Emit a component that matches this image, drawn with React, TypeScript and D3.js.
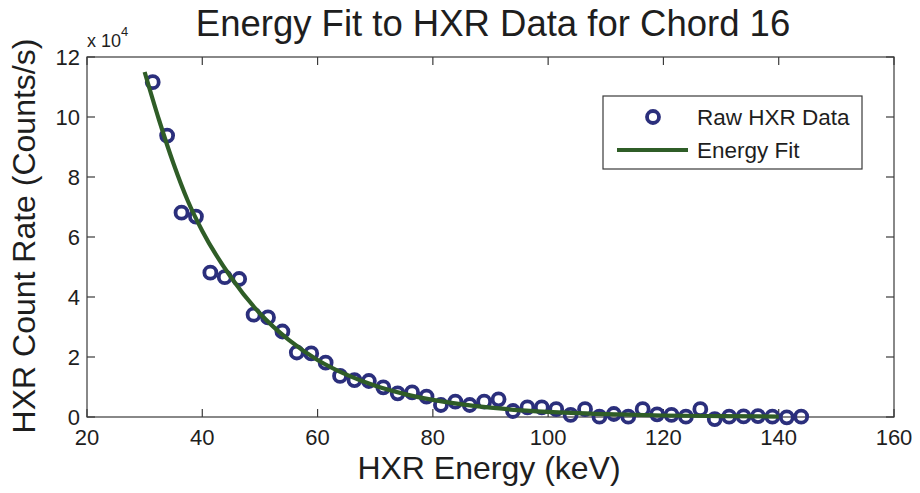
import * as React from 'react';
import * as d3 from 'd3';

const width = 920;
const height = 493;

// raw HXR data: energy in keV, count rate in units of 1e4 counts/s
const energy = [31.4, 33.9, 36.4, 38.9, 41.4, 43.9, 46.4, 48.9, 51.4, 53.9, 56.4, 58.9, 61.4, 63.9, 66.4, 68.9,
  71.4, 73.9, 76.4, 78.9, 81.4, 83.9, 86.4, 88.9, 91.4, 93.9, 96.4, 98.9, 101.4, 103.9, 106.4, 108.9,
  111.4, 113.9, 116.4, 118.9, 121.4, 123.9, 126.4, 128.9, 131.4, 133.9, 136.4, 138.9, 141.4, 143.9];
const counts = [11.16, 9.38, 6.81, 6.68, 4.81, 4.66, 4.6, 3.41, 3.32, 2.85, 2.15, 2.12, 1.81, 1.37, 1.23, 1.2,
  0.99, 0.79, 0.82, 0.68, 0.4, 0.51, 0.4, 0.51, 0.59, 0.2, 0.32, 0.32, 0.26, 0.07, 0.26, 0.01,
  0.1, 0.01, 0.26, 0.09, 0.07, 0.01, 0.26, -0.07, 0.01, 0.02, 0.03, 0.01, -0.01, 0.01];

// energy fit curve
const fitEnergy = [30, 32.5, 35, 37.5, 40, 45, 50, 55, 60, 65, 70, 75, 80, 90, 100, 110, 120, 130, 140];
const fitCounts = [11.5, 9.9, 8.45, 7.2, 6.2, 4.65, 3.45, 2.57, 1.9, 1.41, 1.04, 0.77, 0.57, 0.31, 0.17, 0.095, 0.05, 0.03, 0.015];

const xTicks = [20, 40, 60, 80, 100, 120, 140, 160];
const yTicks = [0, 2, 4, 6, 8, 10, 12];

const x = d3.scaleLinear().domain([20, 160]).range([87, 894]);
const y = d3.scaleLinear().domain([0, 12]).range([417, 57]);

const font = '"Liberation Sans", Arial, sans-serif';
const axisColor = '#3a3a3a';
const textColor = '#1e1e1e';
const markColor = '#2b2f7c';
const fitColor = '#2f5d27';
const tickLen = 8;

export default function App() {
  const points = energy.map((e, i) => ({e, c: counts[i]}));
  const fit = fitEnergy.map((e, i) => ({e, c: fitCounts[i]}));
  const line = d3.line<{e: number, c: number}>()
    .x(d => x(d.e))
    .y(d => y(d.c))
    .curve(d3.curveMonotoneX);

  const [x0, x1] = x.range();
  const [y0, y1] = y.range();

  return (
    <svg width={width} height={height} style={{position: 'absolute', left: 0, top: 0, background: '#fff'}}
      fontFamily={font}>
      <rect x={0} y={0} width={width} height={height} fill="#fff"/>

      {/* plot box */}
      <rect x={x0} y={y1} width={x1 - x0} height={y0 - y1} fill="none" stroke={axisColor} strokeWidth={1.2}/>

      {xTicks.map(t => (
        <g key={'x' + t}>
          <line x1={x(t)} x2={x(t)} y1={y0} y2={y0 - tickLen} stroke={axisColor} strokeWidth={1.2}/>
          <line x1={x(t)} x2={x(t)} y1={y1} y2={y1 + tickLen} stroke={axisColor} strokeWidth={1.2}/>
          <text x={x(t)} y={445} textAnchor="middle" fontSize={22} fill={textColor}>{t}</text>
        </g>
      ))}
      {yTicks.map(t => (
        <g key={'y' + t}>
          <line x1={x0} x2={x0 + tickLen} y1={y(t)} y2={y(t)} stroke={axisColor} strokeWidth={1.2}/>
          <line x1={x1} x2={x1 - tickLen} y1={y(t)} y2={y(t)} stroke={axisColor} strokeWidth={1.2}/>
          <text x={80} y={y(t) + 8} textAnchor="end" fontSize={22} fill={textColor}>{t}</text>
        </g>
      ))}

      {/* exponent label */}
      <text x={87} y={47} fontSize={18} fill={textColor}>x 10<tspan dy={-11} fontSize={13}>4</tspan></text>

      {/* data */}
      {points.map((d, i) => (
        <circle key={i} cx={x(d.e)} cy={y(d.c)} r={6} fill="none" stroke={markColor} strokeWidth={3.8}/>
      ))}
      <path d={line(fit) ?? ''} fill="none" stroke={fitColor} strokeWidth={4.2}/>

      {/* titles */}
      <text x={493} y={36} textAnchor="middle" fontSize={36.5} fill={textColor}>Energy Fit to HXR Data for Chord 16</text>
      <text x={489} y={479} textAnchor="middle" fontSize={32} fill={textColor}>HXR Energy (keV)</text>
      <text transform="translate(35,236) rotate(-90)" textAnchor="middle" fontSize={32} fill={textColor}>HXR Count Rate (Counts/s)</text>

      {/* legend */}
      <rect x={603} y={96} width={259} height={73} fill="#fff" stroke={axisColor} strokeWidth={1.2}/>
      <circle cx={653} cy={117} r={6} fill="none" stroke={markColor} strokeWidth={3.8}/>
      <text x={697} y={125} fontSize={22.5} fill={textColor}>Raw HXR Data</text>
      <line x1={617} x2={688} y1={150} y2={150} stroke={fitColor} strokeWidth={4.2}/>
      <text x={697} y={158} fontSize={22.5} fill={textColor}>Energy Fit</text>
    </svg>
  );
}
